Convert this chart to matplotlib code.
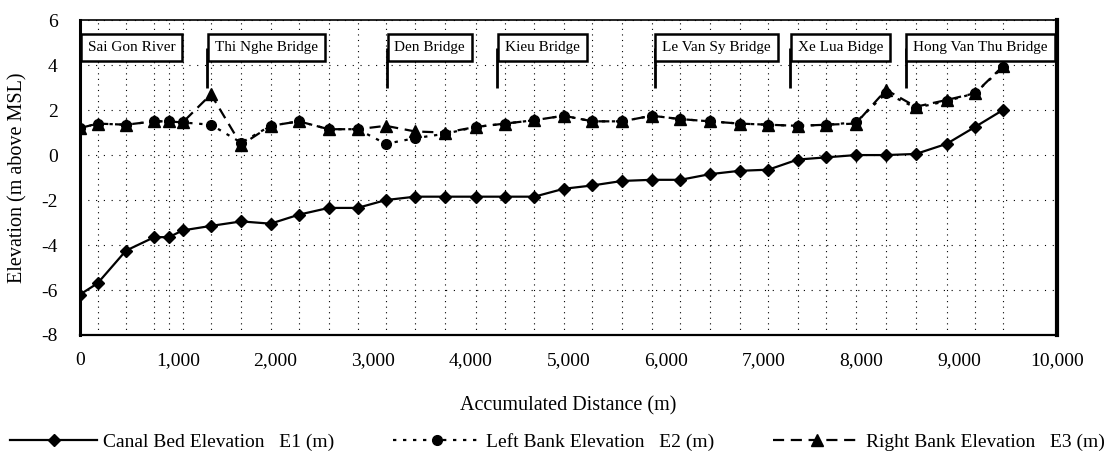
import matplotlib
matplotlib.use('Agg')
import matplotlib.pyplot as plt

plt.rcParams['font.family'] = ['Liberation Serif', 'DejaVu Serif']
plt.rcParams['axes.unicode_minus'] = False

# Accumulated distance along the canal (m)
distance = [0, 180, 470, 760, 910, 1050, 1340, 1650, 1950, 2240, 2545, 2840,
            3130, 3430, 3740, 4050, 4350, 4650, 4950, 5245, 5550, 5850, 6145,
            6445, 6750, 7045, 7345, 7640, 7940, 8250, 8555, 8870, 9160, 9445]

# Elevations (m above MSL)
canal_bed = [-6.2, -5.7, -4.25, -3.65, -3.65, -3.35, -3.15, -2.95, -3.05, -2.65,
             -2.35, -2.35, -2.0, -1.85, -1.85, -1.85, -1.85, -1.85, -1.5, -1.35,
             -1.15, -1.1, -1.1, -0.85, -0.7, -0.65, -0.2, -0.1, 0.0, 0.0, 0.05,
             0.5, 1.25, 2.0]
left_bank = [1.2, 1.4, 1.35, 1.5, 1.5, 1.45, 1.35, 0.55, 1.3, 1.5, 1.15, 1.15,
             0.5, 0.75, 0.95, 1.25, 1.4, 1.55, 1.75, 1.5, 1.5, 1.75, 1.6, 1.5,
             1.4, 1.35, 1.3, 1.35, 1.45, 2.75, 2.1, 2.4, 2.75, 3.9]
right_bank = [1.2, 1.4, 1.35, 1.5, 1.5, 1.45, 2.7, 0.45, 1.3, 1.5, 1.15, 1.15,
              1.3, 1.05, 1.0, 1.25, 1.4, 1.55, 1.75, 1.5, 1.5, 1.75, 1.6, 1.5,
              1.4, 1.35, 1.3, 1.35, 1.4, 2.9, 2.15, 2.45, 2.75, 3.95]

# Landmarks along the canal
bridge_names = ['Sai Gon River', 'Thi Nghe Bridge', 'Den Bridge', 'Kieu Bridge',
                'Le Van Sy Bridge', 'Xe Lua Bidge', 'Hong Van Thu Bridge']
bridge_x = [0, 1300, 3140, 4270, 5880, 7270, 8450]

x_ticks = list(range(0, 10001, 1000))
y_ticks = list(range(-8, 7, 2))

fig = plt.figure(figsize=(11.04, 4.63), dpi=100)
ax = fig.add_axes([0.0725, 0.2765, 0.885, 0.68])

ax.plot(distance, canal_bed, color='black', lw=1.6, marker='D', ms=6,
        label='Canal Bed Elevation   E1 (m)', zorder=4)
ax.plot(distance, left_bank, color='black', lw=1.6, ls=(0, (1.5, 3)),
        marker='o', ms=7, label='Left Bank Elevation   E2 (m)', zorder=4)
ax.plot(distance, right_bank, color='black', lw=1.6, ls=(0, (5, 3)),
        marker='^', ms=8, label='Right Bank Elevation   E3 (m)', zorder=4)

# bridge boxes with leader lines
for name, bx in zip(bridge_names, bridge_x):
    ax.plot([bx, bx], [3.0, 4.78], color='black', lw=2, zorder=2,
            solid_capstyle='butt')
    ax.annotate(name, xy=(bx, 4.78), xytext=(5.5, 0), textcoords='offset points',
                ha='left', va='center', fontsize=11, zorder=5,
                bbox=dict(boxstyle='square,pad=0.45', fc='white', ec='black', lw=1.8))

ax.set_xlim(0, 10000)
ax.set_ylim(-8, 6)
ax.set_xticks(x_ticks)
ax.set_xticklabels([f'{v:,}' for v in x_ticks])
ax.set_yticks(y_ticks)
ax.set_xticks(distance, minor=True)
ax.tick_params(axis='both', which='both', length=0, labelsize=14)
ax.tick_params(axis='x', pad=12)
ax.tick_params(axis='y', pad=16)

ax.grid(which='minor', axis='x', color='black', ls=(0, (1, 4)), lw=0.8)
ax.grid(which='major', axis='y', color='black', ls=(0, (1, 6)), lw=0.8)

ax.spines['left'].set_linewidth(2.2)
ax.spines['right'].set_linewidth(3)
ax.spines['bottom'].set_linewidth(1.6)
ax.spines['top'].set_linewidth(1.2)
ax.spines['top'].set_linestyle((0, (4, 1)))

ax.set_xlabel('Accumulated Distance (m)', fontsize=14.5, labelpad=20)
ax.set_ylabel('Elevation (m above MSL)', fontsize=14.5, labelpad=10)

fig.legend(loc='center', bbox_to_anchor=(0.505, 0.046), ncol=3, frameon=False,
           fontsize=14, handlelength=4.5, columnspacing=3, handletextpad=0.3)

fig.savefig('out.png', dpi=100)
